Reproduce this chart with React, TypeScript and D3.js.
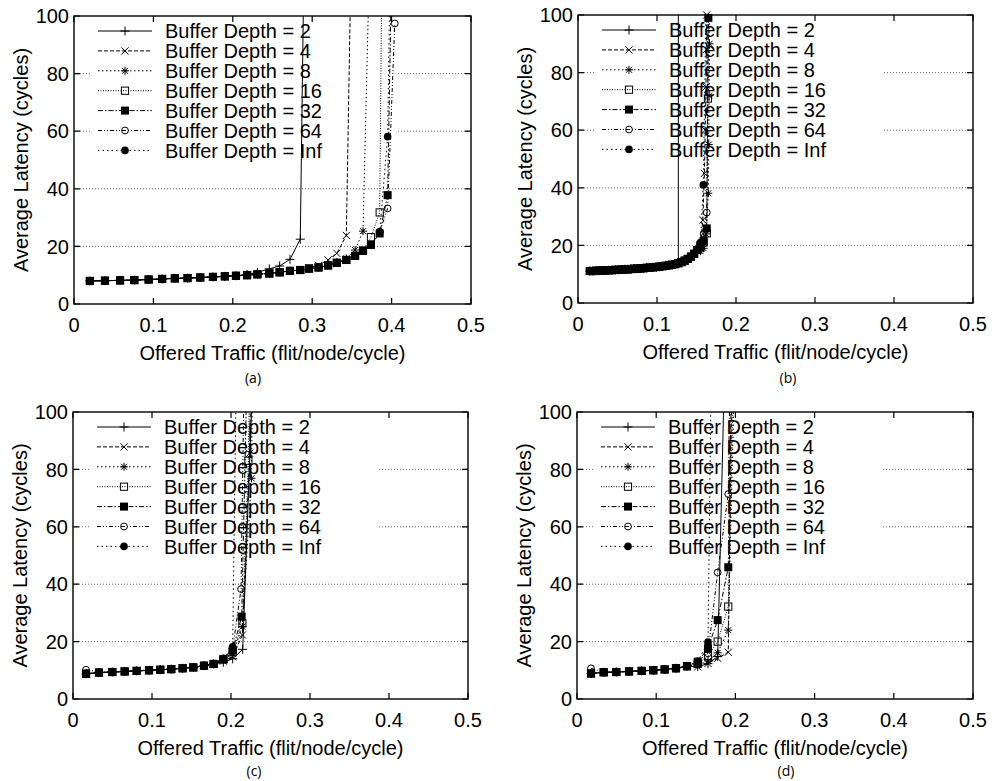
import * as d3 from "d3";
import { useEffect, useRef } from "react";

// legend / styling per series (same order in every panel)
const depthLabels = [
  "Buffer Depth = 2",
  "Buffer Depth = 4",
  "Buffer Depth = 8",
  "Buffer Depth = 16",
  "Buffer Depth = 32",
  "Buffer Depth = 64",
  "Buffer Depth = Inf",
];
const markerTypes = ["plus", "cross", "star", "square", "squareFilled", "circle", "circleFilled"];
const dashes = ["", "4,2", "1.5,2.5", "1,1.5", "5,2,1.5,2", "4,2,1,2,1,2", "1.5,3"];

const xTicks = [0, 0.1, 0.2, 0.3, 0.4, 0.5];
const yTicks = [0, 20, 40, 60, 80, 100];
const gridTicks = [20, 40, 60, 80];

// (a) shared low-load points, then each series' own tail
const aTraffic = [0.020, 0.039, 0.058, 0.076, 0.094, 0.111, 0.127, 0.143, 0.159, 0.175, 0.190, 0.204, 0.218, 0.231,
  0.246, 0.259, 0.272, 0.285, 0.296, 0.308, 0.320, 0.331, 0.343, 0.354, 0.364, 0.374, 0.385, 0.395];
const aBase = [8.0, 8.1, 8.2, 8.3, 8.5, 8.7, 8.9, 9.0, 9.2, 9.4, 9.6, 9.8, 10.0, 10.3,
  10.6, 11.0, 11.5, 11.8, 12.3, 12.7, 13.4, 14.3, 15.3, 16.7, 18.4, 20.5, 24.5, 37.8];
const aTails = [
  [[0.218, 10.3], [0.231, 11.0], [0.246, 12.2], [0.259, 13.2], [0.272, 15.5], [0.285, 22.5], [0.296, 250]],
  [[0.296, 12.6], [0.308, 13.4], [0.320, 15.3], [0.331, 17.6], [0.343, 23.8], [0.354, 200]],
  [[0.331, 14.6], [0.343, 15.8], [0.354, 18.75], [0.364, 25.3], [0.374, 140]],
  [[0.364, 18.6], [0.374, 23.2], [0.385, 31.8], [0.395, 340]],
  [[0.404, 180]],
  [[0.385, 25.0], [0.395, 33.2], [0.404, 97.4]],
  [[0.385, 25.1], [0.395, 58.1], [0.404, 225]],
];

// (b)
const bTraffic = [0.015, 0.019, 0.023, 0.027, 0.031, 0.035, 0.039, 0.043, 0.047, 0.051, 0.055, 0.059, 0.063, 0.067,
  0.071, 0.075, 0.079, 0.083, 0.087, 0.091, 0.095, 0.099, 0.103, 0.107, 0.111, 0.115, 0.119, 0.123, 0.127,
  0.131, 0.135, 0.139, 0.143, 0.147, 0.151, 0.155];
const bBase = [11.1, 11.1, 11.2, 11.2, 11.3, 11.3, 11.4, 11.4, 11.5, 11.5, 11.6, 11.7, 11.7, 11.8,
  11.9, 11.9, 12.0, 12.1, 12.2, 12.3, 12.4, 12.5, 12.6, 12.8, 12.9, 13.1, 13.3, 13.5, 13.8,
  14.2, 14.7, 15.3, 16.1, 17.1, 18.4, 20.2];
const bTails = [
  [[0.1271, 2000]],
  [[0.155, 19.0], [0.158, 28.8], [0.160, 45], [0.161, 60], [0.162, 75], [0.1625, 88], [0.163, 100], [0.1635, 115]],
  [[0.155, 18.0], [0.159, 19.0], [0.162, 24.0], [0.165, 38.1], [0.1655, 55], [0.166, 72], [0.1665, 90], [0.167, 110]],
  [[0.155, 19.5], [0.159, 21.0], [0.163, 24.2], [0.1645, 71], [0.1655, 120]],
  [[0.159, 21.5], [0.163, 25.9], [0.165, 99], [0.1655, 130]],
  [[0.155, 20.0], [0.159, 24.0], [0.163, 31.4], [0.1655, 130]],
  [[0.155, 21.0], [0.1586, 41.0], [0.164, 140]],
];

// (c)
const cTraffic = [0.0165, 0.0329, 0.0498, 0.0654, 0.0806, 0.0962, 0.1105, 0.1244, 0.1388, 0.1523, 0.1658, 0.178, 0.1903, 0.2021];
const cBase = [8.8, 9.2, 9.4, 9.6, 9.8, 10.0, 10.2, 10.4, 10.7, 11.0, 11.6, 12.2, 13.8, 17.0];
const cTails = [
  [[0.1903, 12.8], [0.2021, 14.0], [0.2148, 17.3], [0.227, 108]],
  [[0.1903, 13.2], [0.2021, 14.8], [0.2144, 22.3], [0.2236, 85.6], [0.226, 130]],
  [[0.2021, 15.8], [0.2144, 25.2], [0.226, 76.9], [0.228, 140]],
  [[0.2021, 16.3], [0.2144, 26.4], [0.222, 83], [0.225, 140]],
  [[0.2135, 28.7], [0.2215, 130]],
  [[0.0165, 10.2], [0.0329, 9.4], [0.0498, 9.5], [0.0654, 9.7], [0.0806, 9.9], [0.0962, 10.1], [0.1105, 10.3],
    [0.1244, 10.5], [0.1388, 10.8], [0.1523, 11.1], [0.1658, 11.7], [0.178, 12.4], [0.1903, 14.2], [0.2021, 17.5],
    [0.2127, 38.3], [0.217, 120]],
  [[0.2021, 18.2], [0.208, 140]],
];

// (d)
const dTraffic = [0.0177, 0.0337, 0.0497, 0.0657, 0.0817, 0.0964, 0.1107, 0.125, 0.1389, 0.1524, 0.1654];
const dBase = [8.9, 9.3, 9.4, 9.6, 9.8, 10.0, 10.3, 10.7, 11.4, 13.0, 17.7];
const dTails = [
  [[0.1524, 11.3], [0.1654, 12.3], [0.1776, 14.8], [0.191, 169]],
  [[0.1524, 11.2], [0.1654, 12.4], [0.1776, 14.2], [0.191, 16.3], [0.204, 288]],
  [[0.1524, 11.8], [0.1654, 13.3], [0.1776, 16.1], [0.191, 24.0], [0.204, 170]],
  [[0.1524, 12.3], [0.1654, 15.0], [0.1776, 20.0], [0.191, 32.2], [0.204, 190]],
  [[0.1776, 27.5], [0.191, 45.9], [0.204, 250]],
  [[0.0177, 10.7], [0.0337, 9.4], [0.0497, 9.5], [0.0657, 9.7], [0.0817, 9.9], [0.0964, 10.1], [0.1107, 10.4],
    [0.125, 10.8], [0.1389, 11.5], [0.1524, 13.2], [0.1654, 15.9], [0.1776, 44.1], [0.191, 71.4], [0.204, 320]],
  [[0.1654, 19.8], [0.1776, 300]],
];

const FONT = "'Liberation Sans', Arial, Helvetica, sans-serif";

const panels = [
  { id: "a", traffic: aTraffic, base: aBase, tails: aTails, left: 74, right: 471, top: 16, bottom: 304, capX: 253, capY: 378, keyW: 323 },
  { id: "b", traffic: bTraffic, base: bBase, tails: bTails, left: 578, right: 973, top: 15, bottom: 303, capX: 788, capY: 378, keyW: 305 },
  { id: "c", traffic: cTraffic, base: cBase, tails: cTails, left: 73, right: 468, top: 412, bottom: 699, capX: 254, capY: 771, keyW: 305 },
  { id: "d", traffic: dTraffic, base: dBase, tails: dTails, left: 577, right: 973, top: 412, bottom: 699, capX: 786, capY: 771, keyW: 306 },
];

// series = shared points left of where the tail begins, then the tail
const buildSeries = (traffic, base, tail) => {
  const cut = tail[0][0];
  const head = traffic.map((x, i) => [x, base[i]]).filter((p) => p[0] < cut - 1e-9);
  return head.concat(tail);
};

const drawMarker = (g, type, x, y) => {
  const s = 3.6;
  if (type === "plus") {
    g.append("path").attr("d", `M${x - 4.5},${y}H${x + 4.5}M${x},${y - 4.5}V${y + 4.5}`).attr("stroke", "#000");
  } else if (type === "cross") {
    g.append("path").attr("d", `M${x - s},${y - s}L${x + s},${y + s}M${x - s},${y + s}L${x + s},${y - s}`).attr("stroke", "#000");
  } else if (type === "star") {
    g.append("path")
      .attr("d", `M${x - 4},${y}H${x + 4}M${x},${y - 4}V${y + 4}M${x - 3},${y - 3}L${x + 3},${y + 3}M${x - 3},${y + 3}L${x + 3},${y - 3}`)
      .attr("stroke", "#000");
  } else if (type === "square") {
    g.append("rect").attr("x", x - s).attr("y", y - s).attr("width", 2 * s).attr("height", 2 * s)
      .attr("fill", "none").attr("stroke", "#000");
  } else if (type === "squareFilled") {
    g.append("rect").attr("x", x - 4).attr("y", y - 4).attr("width", 8).attr("height", 8).attr("fill", "#000");
  } else if (type === "circle") {
    g.append("circle").attr("cx", x).attr("cy", y).attr("r", 3.4).attr("fill", "none").attr("stroke", "#000");
  } else {
    g.append("circle").attr("cx", x).attr("cy", y).attr("r", 3.8).attr("fill", "#000");
  }
};

const App = () => {
  const ref = useRef(null);

  useEffect(() => {
    const svg = d3.select(ref.current);
    svg.selectAll("*").remove();

    panels.forEach((p) => {
      const x = d3.scaleLinear().domain([0, 0.5]).range([p.left, p.right]);
      const y = d3.scaleLinear().domain([0, 100]).range([p.bottom, p.top]);
      const g = svg.append("g");

      g.append("clipPath").attr("id", "clip-" + p.id)
        .append("rect").attr("x", p.left).attr("y", p.top)
        .attr("width", p.right - p.left).attr("height", p.bottom - p.top);

      // horizontal dotted grid
      g.selectAll(".grid").data(gridTicks).enter().append("line")
        .attr("x1", p.left).attr("x2", p.right)
        .attr("y1", (d) => y(d)).attr("y2", (d) => y(d))
        .attr("stroke", "#666").attr("stroke-width", 1).attr("stroke-dasharray", "1,2");

      // key box hides the grid
      g.append("rect").attr("x", p.left + 18).attr("y", p.top + 1)
        .attr("width", p.keyW - 18).attr("height", 157).attr("fill", "#fff");

      depthLabels.forEach((label, i) => {
        const ry = p.top + 15 + i * 19.9;
        g.append("line").attr("x1", p.left + 24).attr("x2", p.left + 78).attr("y1", ry).attr("y2", ry)
          .attr("stroke", "#000").attr("stroke-width", 1).attr("stroke-dasharray", dashes[i] || null);
        drawMarker(g, markerTypes[i], p.left + 51, ry);
        g.append("text").attr("x", p.left + 91).attr("y", ry).attr("dy", "0.36em")
          .attr("font-family", FONT).attr("font-size", 20).attr("fill", "#000").text(label);
      });

      const line = d3.line().x((d) => x(d[0])).y((d) => y(d[1]));
      p.tails.forEach((tail, i) => {
        const pts = buildSeries(p.traffic, p.base, tail);
        g.append("path").datum(pts).attr("d", line)
          .attr("clip-path", `url(#clip-${p.id})`)
          .attr("fill", "none").attr("stroke", "#000").attr("stroke-width", 1)
          .attr("stroke-dasharray", dashes[i] || null);
        const mg = g.append("g");
        pts.filter((d) => d[1] <= 100).forEach((d) => drawMarker(mg, markerTypes[i], x(d[0]), y(d[1])));
      });

      // frame with inward ticks on all sides
      g.append("rect").attr("x", p.left).attr("y", p.top)
        .attr("width", p.right - p.left).attr("height", p.bottom - p.top)
        .attr("fill", "none").attr("stroke", "#000").attr("stroke-width", 1.4);
      xTicks.forEach((t) => {
        g.append("path").attr("d", `M${x(t)},${p.bottom}v-6M${x(t)},${p.top}v6`).attr("stroke", "#000").attr("stroke-width", 1.2);
        g.append("text").attr("x", x(t)).attr("y", p.bottom + 21).attr("dy", "0.36em")
          .attr("text-anchor", "middle").attr("font-family", FONT).attr("font-size", 20).text(d3.format("")(t));
      });
      yTicks.forEach((t) => {
        g.append("path").attr("d", `M${p.left},${y(t)}h6M${p.right},${y(t)}h-6`).attr("stroke", "#000").attr("stroke-width", 1.2);
        g.append("text").attr("x", p.left - 5).attr("y", y(t)).attr("dy", "0.36em")
          .attr("text-anchor", "end").attr("font-family", FONT).attr("font-size", 20).text(t);
      });

      g.append("text").attr("x", (p.left + p.right) / 2).attr("y", p.bottom + 49).attr("dy", "0.36em")
        .attr("text-anchor", "middle").attr("font-family", FONT).attr("font-size", 20)
        .text("Offered Traffic (flit/node/cycle)");
      const cy = (p.top + p.bottom) / 2;
      g.append("text").attr("transform", `translate(${p.left - 53},${cy}) rotate(-90)`).attr("dy", "0.36em")
        .attr("text-anchor", "middle").attr("font-family", FONT).attr("font-size", 20)
        .text("Average Latency (cycles)");
      g.append("text").attr("x", p.capX).attr("y", p.capY).attr("dy", "0.36em")
        .attr("text-anchor", "middle").attr("font-family", "'Open Sans', sans-serif").attr("font-size", 14)
        .text(`(${p.id})`);
    });
  }, []);

  return (
    <svg ref={ref} width={992} height={781} style={{ position: "absolute", left: 0, top: 0, background: "#fff" }} />
  );
};

export default App;
